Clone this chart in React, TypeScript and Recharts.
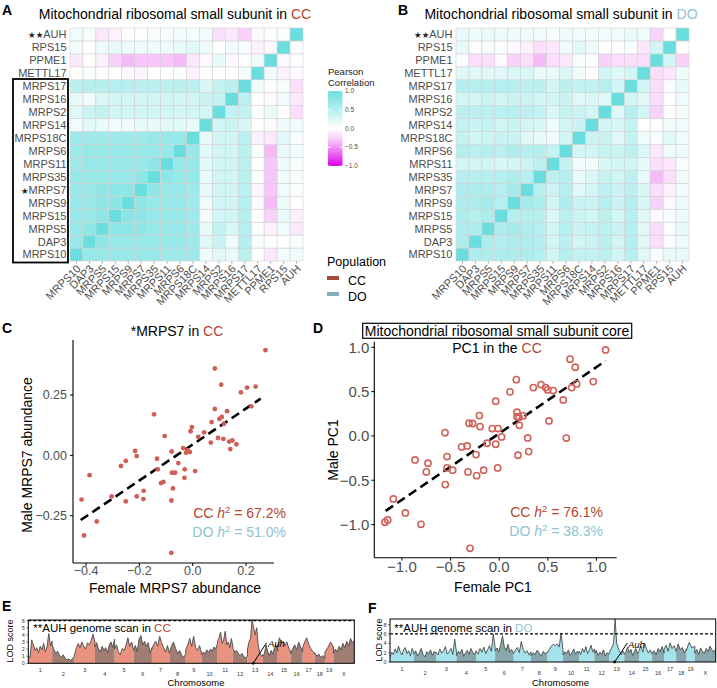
import React from 'react';
import { ScatterChart, Scatter, XAxis, YAxis, ReferenceLine, ReferenceDot, ComposedChart, Area, Line } from 'recharts';

const FONT = '"Liberation Sans", Arial, Helvetica, sans-serif';
const CC_RED = '#B5452F';
const DO_BLUE = '#8DC4D0';
const TICK_GRAY = '#4D4D4D';

// ---------- Heatmaps (rows bottom -> top, columns left -> right) ----------
const genes = ['MRPS10', 'DAP3', 'MRPS5', 'MRPS15', 'MRPS9', 'MRPS7', 'MRPS35', 'MRPS11', 'MRPS6', 'MRPS18C', 'MRPS14', 'MRPS2', 'MRPS16', 'MRPS17', 'METTL17', 'PPME1', 'RPS15', 'AUH'];

const ccCorr = [
  [1, 0.7, 0.7, 0.7, 0.7, 0.7, 0.7, 0.65, 0.65, 0.65, 0.1, 0.2, 0.15, 0.45, 0.0, -0.15, 0.08, 0.1],
  [0.7, 1, 0.75, 0.7, 0.7, 0.7, 0.7, 0.7, 0.7, 0.65, 0.2, 0.35, 0.1, 0.5, 0.05, 0.0, 0.0, 0.05],
  [0.7, 0.75, 1, 0.75, 0.75, 0.75, 0.7, 0.7, 0.7, 0.65, 0.15, 0.4, 0.25, 0.5, 0.02, -0.1, 0.1, -0.15],
  [0.7, 0.7, 0.75, 1, 0.78, 0.75, 0.7, 0.7, 0.7, 0.65, 0.08, 0.3, 0.3, 0.5, 0.0, -0.25, 0.15, -0.1],
  [0.7, 0.7, 0.75, 0.78, 1, 0.75, 0.7, 0.7, 0.7, 0.65, 0.1, 0.3, 0.3, 0.5, -0.05, -0.35, 0.12, 0.0],
  [0.7, 0.7, 0.75, 0.75, 0.75, 1, 0.75, 0.7, 0.7, 0.65, 0.15, 0.3, 0.3, 0.45, -0.08, -0.3, 0.1, 0.02],
  [0.7, 0.7, 0.7, 0.7, 0.7, 0.75, 1, 0.75, 0.7, 0.7, 0.15, 0.3, 0.3, 0.45, 0.0, -0.3, 0.1, 0.05],
  [0.65, 0.7, 0.7, 0.7, 0.7, 0.7, 0.75, 1, 0.7, 0.7, 0.2, 0.3, 0.3, 0.45, 0.0, -0.3, 0.12, 0.05],
  [0.65, 0.7, 0.7, 0.7, 0.7, 0.7, 0.7, 0.7, 1, 0.7, 0.2, 0.3, 0.3, 0.45, 0.02, -0.35, 0.15, 0.08],
  [0.65, 0.65, 0.65, 0.65, 0.65, 0.65, 0.7, 0.7, 0.7, 1, 0.15, 0.3, 0.3, 0.45, -0.1, -0.15, 0.2, 0.05],
  [0.1, 0.2, 0.15, 0.08, 0.1, 0.15, 0.15, 0.2, 0.2, 0.15, 1, 0.3, 0.35, 0.25, 0.0, -0.05, 0.12, 0.1],
  [0.2, 0.35, 0.4, 0.3, 0.3, 0.3, 0.3, 0.3, 0.3, 0.3, 0.3, 1, 0.4, 0.4, 0.0, 0.15, 0.0, -0.2],
  [0.15, 0.1, 0.25, 0.3, 0.3, 0.3, 0.3, 0.3, 0.3, 0.3, 0.35, 0.4, 1, 0.45, 0.0, -0.05, 0.1, -0.15],
  [0.45, 0.5, 0.5, 0.5, 0.5, 0.45, 0.45, 0.45, 0.45, 0.45, 0.25, 0.4, 0.45, 1, 0.08, 0.0, 0.05, -0.2],
  [0.0, 0.05, 0.02, 0.0, -0.05, -0.08, 0.0, 0.0, 0.02, -0.1, 0.0, 0.0, 0.0, 0.08, 1, 0.1, -0.1, -0.05],
  [-0.15, 0.0, -0.1, -0.25, -0.35, -0.3, -0.3, -0.3, -0.35, -0.15, -0.05, 0.15, -0.05, 0.0, 0.1, 1, -0.05, 0.02],
  [0.08, 0.0, 0.1, 0.15, 0.12, 0.1, 0.1, 0.12, 0.15, 0.2, 0.12, 0.0, 0.1, 0.05, -0.1, -0.05, 1, 0.03],
  [0.1, 0.05, -0.15, -0.1, 0.0, 0.02, 0.05, 0.05, 0.08, 0.05, 0.1, -0.2, -0.15, -0.25, -0.05, 0.02, 0.03, 1],
];

const doCorr = [
  [1, 0.55, 0.55, 0.55, 0.55, 0.55, 0.5, 0.3, 0.5, 0.4, 0.4, 0.45, 0.3, 0.5, 0.2, 0.05, 0.15, 0.15],
  [0.55, 1, 0.55, 0.5, 0.55, 0.55, 0.5, 0.3, 0.45, 0.3, 0.35, 0.45, 0.3, 0.5, 0.2, -0.2, 0.05, 0.12],
  [0.55, 0.55, 1, 0.55, 0.6, 0.55, 0.5, 0.3, 0.5, 0.35, 0.4, 0.45, 0.35, 0.5, 0.2, -0.2, 0.02, 0.15],
  [0.55, 0.5, 0.55, 1, 0.5, 0.5, 0.5, 0.25, 0.45, 0.35, 0.3, 0.45, 0.3, 0.5, 0.2, -0.05, 0.05, 0.12],
  [0.55, 0.55, 0.6, 0.5, 1, 0.6, 0.55, 0.3, 0.55, 0.35, 0.35, 0.5, 0.35, 0.5, 0.25, -0.25, -0.05, 0.12],
  [0.55, 0.55, 0.55, 0.5, 0.6, 1, 0.5, 0.35, 0.5, 0.2, 0.3, 0.45, 0.35, 0.45, 0.25, -0.2, -0.1, 0.1],
  [0.5, 0.5, 0.5, 0.5, 0.55, 0.5, 1, 0.45, 0.5, 0.15, 0.25, 0.4, 0.3, 0.45, 0.15, -0.35, -0.2, 0.1],
  [0.3, 0.3, 0.3, 0.25, 0.3, 0.35, 0.45, 1, 0.4, 0.1, 0.1, 0.25, 0.3, 0.3, 0.15, -0.2, -0.15, 0.05],
  [0.5, 0.45, 0.5, 0.45, 0.55, 0.5, 0.5, 0.4, 1, 0.3, 0.3, 0.4, 0.35, 0.45, 0.25, -0.15, 0.1, 0.12],
  [0.4, 0.3, 0.35, 0.35, 0.35, 0.2, 0.15, 0.1, 0.3, 1, 0.35, 0.35, 0.2, 0.4, 0.1, 0.05, 0.2, 0.1],
  [0.4, 0.35, 0.4, 0.3, 0.35, 0.3, 0.25, 0.1, 0.3, 0.35, 1, 0.3, 0.25, 0.4, 0.0, 0.02, 0.1, 0.08],
  [0.45, 0.45, 0.45, 0.45, 0.5, 0.45, 0.4, 0.25, 0.4, 0.35, 0.3, 1, 0.2, 0.5, 0.3, -0.25, 0.0, 0.08],
  [0.3, 0.3, 0.35, 0.3, 0.35, 0.35, 0.3, 0.3, 0.35, 0.2, 0.25, 0.2, 1, 0.3, 0.2, -0.2, 0.0, 0.1],
  [0.5, 0.5, 0.5, 0.5, 0.5, 0.45, 0.45, 0.3, 0.45, 0.4, 0.4, 0.5, 0.3, 1, 0.3, -0.2, 0.05, 0.15],
  [0.2, 0.2, 0.2, 0.2, 0.25, 0.25, 0.15, 0.15, 0.25, 0.1, 0.0, 0.3, 0.2, 0.3, 1, -0.2, -0.15, 0.1],
  [0.05, -0.2, -0.2, -0.05, -0.25, -0.2, -0.35, -0.2, -0.15, 0.05, 0.0, -0.25, -0.2, -0.2, -0.2, 1, 0.3, -0.25],
  [0.15, 0.02, 0.05, 0.02, -0.05, -0.1, -0.2, -0.15, 0.1, 0.2, 0.1, 0.0, 0.02, 0.05, -0.15, 0.3, 1, 0.0],
  [0.15, 0.12, 0.15, 0.12, 0.12, 0.1, 0.1, 0.05, 0.12, 0.1, 0.08, 0.08, 0.1, 0.15, 0.1, -0.25, 0.0, 1],
];

const ccRowStars: Record<string, string> = { AUH: '★★', MRPS7: '★' };
const doRowStars: Record<string, string> = { AUH: '★★' };
const legendValues = [1, 0.5, 0, -0.5, -1];
const legendLabels = ['1.0', '0.5', '0.0', '−0.5', '−1.0'];

// ---------- Panel C: MRPS7 female vs male ----------
const cFemale = [0.273, 0.083, 0.107, 0.204, 0.236, 0.181, 0.22, 0.083, 0.129, 0.109, 0.1, 0.071, -0.145, 0.117, -0.003, -0.008, 0.043, 0.021, 0.095, 0.115, 0.149, 0.137, 0.068, 0.164, 0.141, -0.105, -0.036, -0.02, -0.011, -0.025, -0.079, -0.216, -0.21, -0.134, -0.251, -0.269, -0.054, -0.131, -0.03, -0.078, -0.066, 0.009, -0.031, -0.119, -0.11, -0.074, -0.184, -0.21, -0.304, -0.185, -0.251, -0.08, -0.417, -0.387, -0.36, -0.408, -0.08];
const cMale = [0.436, 0.36, 0.293, 0.281, 0.285, 0.261, 0.203, 0.192, 0.183, 0.159, 0.151, 0.138, 0.17, 0.131, 0.117, 0.1, 0.095, 0.076, 0.072, 0.068, 0.062, 0.057, 0.053, 0.046, 0.026, 0.08, 0.03, 0.022, 0.014, 0.011, 0.016, 0.018, -0.003, -0.014, -0.023, -0.044, -0.032, -0.058, -0.058, -0.072, -0.072, -0.065, -0.093, -0.115, -0.11, -0.137, -0.147, -0.17, -0.17, -0.181, -0.191, -0.187, -0.183, -0.082, -0.274, -0.332, -0.404];
const cFit = [{ x: -0.42, y: -0.268 }, { x: 0.255, y: 0.235 }];

// ---------- Panel D: PC1 female vs male ----------
const dFemale = [1.094, 0.728, 0.782, 0.176, 0.967, 0.796, 0.745, 0.351, 0.43, 0.478, 0.498, 0.556, 0.111, 0.659, -0.036, 0.183, 0.183, 0.245, 0.204, 0.207, 0.512, -0.204, -0.31, -0.273, -0.197, -0.071, -0.012, -0.557, 0.025, 0.293, 0.69, -0.386, -0.328, -0.125, -0.036, -0.238, -0.536, 0.193, 0.303, -0.865, -0.732, -0.749, -0.536, -0.478, -0.321, -0.232, -0.16, -0.016, -0.554, -1.088, -0.965, -1.146, -1.174, -0.804, -0.3];
const dMale = [0.97, 0.866, 0.775, 0.635, 0.613, 0.587, 0.545, 0.545, 0.579, 0.545, 0.519, 0.512, 0.497, 0.406, 0.391, 0.267, 0.218, 0.226, 0.21, 0.12, 0.169, 0.229, 0.143, 0.14, 0.105, 0.083, 0.083, 0.037, -0.011, -0.023, -0.024, -0.124, -0.113, -0.083, -0.094, -0.211, -0.233, -0.218, -0.177, -0.271, -0.308, -0.406, -0.361, -0.387, -0.406, -0.448, -0.387, -0.361, -0.549, -0.711, -0.869, -0.948, -0.974, -0.997, -1.268];
const dFit = [{ x: -1.167, y: -0.846 }, { x: 1.094, y: 0.847 }];

// ---------- Panels E / F: genome scans ----------
const chrNames = ['1', '2', '3', '4', '5', '6', '7', '8', '9', '10', '11', '12', '13', '14', '15', '16', '17', '18', '19', 'X'];
const chrLengths = [121, 113, 104, 100, 96, 93, 89, 83, 80, 81, 78, 74, 78, 75, 66, 61, 61, 52, 43, 106];

const ccLod = [
  [1.0, 0.8, 3.3, 2.6, 1.8, 2.2, 1.5, 2.4, 1.9, 2.8, 1.6, 2.3, 4.2, 2.5, 3.1],
  [2.6, 1.9, 1.4, 1.7, 1.1, 0.9, 1.2, 0.7, 0.5, 0.6, 0.4, 0.7, 0.9],
  [1.2, 2.1, 2.8, 2.2, 3.0, 2.4, 2.0, 2.9, 2.6, 3.2, 4.1, 3.0],
  [2.3, 2.9, 2.0, 1.6, 2.4, 1.8, 2.2, 1.5, 2.6, 3.0, 2.2, 3.4],
  [2.0, 2.6, 1.6, 1.2, 2.1, 1.8, 2.5, 3.6, 2.4, 3.0, 1.9],
  [1.8, 2.5, 1.6, 3.4, 3.9, 2.6, 3.1, 2.4, 2.9, 1.5, 2.2],
  [2.0, 2.7, 3.1, 2.4, 3.8, 2.9, 2.2, 1.6, 2.5, 1.4],
  [1.5, 2.4, 3.0, 2.1, 1.4, 1.8, 1.1, 0.9, 1.3],
  [1.9, 2.6, 3.5, 2.4, 3.8, 2.2, 1.8, 2.5, 1.4],
  [1.2, 1.6, 1.3, 1.9, 1.5, 2.0, 1.7, 2.3, 2.0, 2.8],
  [3.1, 3.6, 4.4, 2.8, 3.3, 4.5, 2.6, 3.0, 2.2, 3.5, 2.4],
  [2.1, 1.6, 1.8, 1.3, 1.1, 1.4, 0.9, 0.8, 1.0],
  [2.0, 3.0, 3.5, 6.1, 5.0, 4.0, 5.0, 2.5, 1.5, 1.0, 1.2],
  [1.0, 1.4, 2.6, 1.6, 1.1, 1.8, 1.3, 2.1, 2.6, 1.7],
  [2.4, 3.6, 2.8, 3.1, 2.5, 3.0, 2.1, 1.7],
  [1.4, 2.0, 2.6, 1.9, 3.0, 2.3, 1.6],
  [2.2, 3.0, 3.6, 2.7, 2.1, 1.7, 1.3],
  [1.5, 1.0, 1.3, 0.8, 1.1, 0.7],
  [1.6, 2.2, 3.0, 2.3],
  [1.4, 2.0, 1.6, 2.4, 1.9, 2.8, 2.2, 3.1, 2.5, 3.5, 2.9, 3.2],
];

const doLod = [
  [1.2, 2.1, 1.6, 2.8, 1.9, 3.4, 2.2, 1.5, 2.6, 3.1, 1.8, 2.4, 1.3, 2.9, 2.0],
  [1.7, 2.4, 1.3, 2.0, 2.9, 1.6, 1.1, 2.2, 1.8, 2.6, 1.4, 2.3, 1.9],
  [2.1, 1.5, 2.8, 1.9, 2.4, 3.3, 1.7, 2.2, 2.9, 1.6, 4.9, 2.0],
  [1.4, 2.3, 1.8, 2.7, 1.2, 2.0, 2.5, 1.6, 2.9, 2.1, 1.5, 2.4],
  [2.2, 1.7, 2.9, 2.1, 3.2, 1.8, 2.6, 3.5, 2.3, 6.0, 3.1],
  [2.4, 3.0, 2.2, 3.6, 5.6, 3.2, 2.5, 3.8, 2.1, 2.7, 1.9],
  [1.8, 2.6, 3.1, 2.0, 4.4, 2.7, 1.9, 2.4, 1.5, 2.2],
  [1.3, 2.0, 1.6, 2.5, 1.9, 1.2, 2.3, 1.7, 2.1],
  [2.0, 2.7, 3.4, 3.8, 3.5, 3.9, 3.2, 6.1, 2.4],
  [1.5, 2.2, 1.8, 2.6, 1.4, 2.0, 2.8, 1.7, 2.3, 1.9],
  [2.3, 1.6, 2.9, 2.1, 3.3, 1.8, 2.5, 3.6, 2.2, 2.8],
  [1.9, 2.5, 1.4, 2.1, 1.7, 2.6, 1.3, 2.0, 1.6],
  [1.8, 2.6, 3.2, 4.0, 9.2, 4.1, 3.0, 2.2, 1.5, 2.4, 1.7],
  [1.6, 2.3, 3.1, 2.0, 2.7, 1.4, 2.1, 2.9, 1.8, 2.4],
  [2.5, 3.4, 2.1, 4.0, 2.8, 1.9, 2.6, 1.7],
  [1.8, 2.4, 1.5, 2.9, 2.2, 3.3, 1.9],
  [2.7, 3.6, 2.3, 4.1, 2.9, 3.5, 2.4],
  [2.2, 3.9, 2.6, 3.1, 2.0, 2.8],
  [2.5, 4.2, 3.0, 3.4],
  [1.9, 2.7, 1.6, 3.0, 2.3, 1.8, 2.9, 2.2, 3.4, 2.6, 2.1, 2.8],
];

const auhBase = { x: 1141, y: 0 };
const ccAuhTip = { x: 1209, y: 2.9 };
const doAuhTip = { x: 1206, y: 4.1 };

// ---------- helpers ----------
const HIGH = [106, 222, 222];
const LOW = [222, 0, 232];
function corrColor(v: number): string {
  const t = Math.min(1, Math.abs(v));
  const c = v >= 0 ? HIGH : LOW;
  const k = v >= 0 ? t : Math.pow(t, 1.25);
  const ch = c.map((cv) => Math.round(255 + (cv - 255) * k));
  return `rgb(${ch[0]},${ch[1]},${ch[2]})`;
}

const geneIdx = genes.map((_, i) => i);

function Heatmap(props: { matrix: number[][]; stars: Record<string, string>; width: number; yW: number; right: number }) {
  const { matrix, stars, width, yW, right } = props;
  const data: { x: number; y: number; v: number }[] = [];
  matrix.forEach((row, r) => row.forEach((v, c) => data.push({ x: c, y: r, v })));
  const cs = (width - yW - right) / genes.length;
  const RowTick = (p: any) => {
    const g = genes[p.payload.value];
    const s = stars[g];
    return (
      <text x={p.x} y={p.y} dy="0.36em" textAnchor="end" fontSize={11} fontFamily={FONT} fill={TICK_GRAY}>
        {s ? <tspan fontSize={8.5} fill="#222" fontFamily="DejaVu Sans">{s}</tspan> : null}
        <tspan>{g}</tspan>
      </text>
    );
  };
  const ColTick = (p: any) => (
    <text transform={`translate(${p.x},${p.y}) rotate(-45)`} textAnchor="end" dy="0.62em" fontSize={11} fontFamily={FONT} fill={TICK_GRAY}>
      {genes[p.payload.value]}
    </text>
  );
  return (
    <ScatterChart width={width} height={310} margin={{ top: 28, right, bottom: 4, left: 0 }}>
      <XAxis type="number" dataKey="x" domain={[-0.5, 17.5]} ticks={geneIdx} interval={0} height={45} tickSize={2.5} tickMargin={1} axisLine={false} tickLine={{ stroke: '#aaa' }} tick={<ColTick />} />
      <YAxis type="number" dataKey="y" domain={[-0.5, 17.5]} ticks={geneIdx} interval={0} width={yW} tickSize={2.5} tickMargin={1} axisLine={false} tickLine={false} tick={<RowTick />} />
      <Scatter
        data={data}
        isAnimationActive={false}
        shape={(p: any) => (
          <rect x={p.cx - cs / 2} y={p.cy - cs / 2} width={cs} height={cs} fill={corrColor(p.payload.v)} stroke="#d2d2d2" strokeWidth={0.6} />
        )}
      />
    </ScatterChart>
  );
}

const axisTick = (size: number) => ({ fontSize: size, fill: TICK_GRAY, fontFamily: FONT });
const fmt = (d: number) => (v: number) => (v < 0 ? '−' + Math.abs(v).toFixed(d) : v.toFixed(d));

function buildScan(lods: number[][]) {
  const pts: any[] = [];
  let start = 0;
  lods.forEach((vals, k) => {
    const len = chrLengths[k];
    vals.forEach((v, i) => {
      const pos = start + (len * i) / (vals.length - 1);
      pts.push({ pos, lod: v, odd: k % 2 === 0 ? v : null, even: k % 2 === 1 ? v : null });
    });
    start += len;
  });
  return pts;
}
const chrStarts = chrLengths.map((_, i) => chrLengths.slice(0, i).reduce((a, b) => a + b, 0));
const chrMids = chrLengths.map((l, i) => chrStarts[i] + l / 2);
const genomeLen = chrLengths.reduce((a, b) => a + b, 0);

function Scan(props: { lods: number[][]; yMax: number; yTicks: number[]; oddFill: string; evenFill: string; width: number; margin: any; tip: { x: number; y: number } }) {
  const { lods, yMax, yTicks, oddFill, evenFill, width, margin, tip } = props;
  const data = buildScan(lods);
  const ChrTick = (p: any) => {
    const i = chrMids.findIndex((m) => Math.abs(m - p.payload.value) < 0.01);
    return (
      <text x={p.x} y={p.y + (i % 2 === 0 ? 8.5 : 13)} textAnchor="middle" fontSize={5.5} fontFamily={FONT} fill="#333">
        {chrNames[i]}
      </text>
    );
  };
  return (
    <ComposedChart width={width} height={88} data={data} margin={margin}>
      <XAxis type="number" dataKey="pos" domain={[0, genomeLen]} ticks={chrMids} interval={0} height={16} tickSize={0} tickMargin={0} axisLine={false} tickLine={false} tick={<ChrTick />} />
      <YAxis type="number" domain={[0, yMax]} ticks={yTicks} interval={0} width={14} tickSize={2} tickMargin={1.5} axisLine={false} tickLine={{ stroke: '#333', strokeWidth: 0.6 }} tick={{ fontSize: 5.5, fill: '#333', fontFamily: FONT }} />
      <Area type="linear" dataKey="odd" stroke="none" fill={oddFill} fillOpacity={1} baseValue={0} connectNulls={false} isAnimationActive={false} dot={false} activeDot={false} />
      <Area type="linear" dataKey="even" stroke="none" fill={evenFill} fillOpacity={1} baseValue={0} connectNulls={false} isAnimationActive={false} dot={false} activeDot={false} />
      <Line type="linear" dataKey="lod" stroke="#4a4a4a" strokeWidth={0.9} dot={false} activeDot={false} isAnimationActive={false} />
      <ReferenceLine y={6} stroke="#000" strokeWidth={1.2} strokeDasharray="3 2" />
      <ReferenceLine segment={[auhBase, tip]} stroke="#000" strokeWidth={1} />
      <ReferenceDot x={auhBase.x} y={auhBase.y} r={1.4} fill="#000" stroke="none" />
    </ComposedChart>
  );
}

const abs = (left: number, top: number): React.CSSProperties => ({ position: 'absolute', left, top });

function H2Text(props: { x: number; y: number; pop: string; val: string; color: string }) {
  const { x, y, pop, val, color } = props;
  return (
    <text x={x} y={y} textAnchor="end" fontSize={14} fill={color} fontFamily={FONT}>
      {pop + ' '}
      <tspan fontStyle="italic">h</tspan>
      <tspan dy={-5} fontSize={9.5}>2</tspan>
      <tspan dy={5}>{' = ' + val}</tspan>
    </text>
  );
}

export default function App() {
  const cData = cFemale.map((x, i) => ({ x, y: cMale[i] }));
  const dData = dFemale.map((x, i) => ({ x, y: dMale[i] }));
  const barTop = 91;
  const barH = 75;
  const valY = (v: number) => barTop + ((1 - v) / 2) * barH;
  const gradStops = [1, 0.75, 0.5, 0.25, 0, -0.25, -0.5, -0.75, -1];

  return (
    <div style={{ position: 'absolute', left: 0, top: 0, width: 717, height: 688, background: '#fff', fontFamily: FONT, overflow: 'hidden' }}>
      <div style={abs(0, 0)}>
        <Heatmap matrix={ccCorr} stars={ccRowStars} width={320} yW={70} right={17} />
      </div>
      <div style={abs(380, 0)}>
        <Heatmap matrix={doCorr} stars={doRowStars} width={330} yW={76} right={21} />
      </div>

      <div style={abs(0, 320)}>
        <ScatterChart width={300} height={280} margin={{ top: 20, right: 26, bottom: 7, left: 20 }}>
          <XAxis type="number" dataKey="x" domain={[-0.449, 0.305]} ticks={[-0.4, -0.2, 0, 0.2]} tickFormatter={fmt(1)} height={30} tickSize={3} tickMargin={0} axisLine={{ stroke: '#000', strokeWidth: 1.1 }} tickLine={{ stroke: '#000' }} tick={axisTick(12.5)} />
          <YAxis type="number" dataKey="y" domain={[-0.446, 0.478]} ticks={[-0.25, 0, 0.25]} tickFormatter={fmt(2)} width={53} tickSize={3} tickMargin={3} axisLine={{ stroke: '#000', strokeWidth: 1.1 }} tickLine={{ stroke: '#000' }} tick={axisTick(12.5)} />
          <ReferenceLine segment={cFit} stroke="#000" strokeWidth={2.6} strokeDasharray="9 5" />
          <Scatter data={cData} isAnimationActive={false} shape={(p: any) => <circle cx={p.cx} cy={p.cy} r={2.4} fill="#CF5F55" />} />
        </ScatterChart>
      </div>

      <div style={abs(340, 320)}>
        <ScatterChart width={300} height={280} margin={{ top: 21.7, right: 23.3, bottom: 12.3, left: 0 }}>
          <XAxis type="number" dataKey="x" domain={[-1.284, 1.208]} ticks={[-1, -0.5, 0, 0.5, 1]} tickFormatter={fmt(1)} height={30} tickSize={3} tickMargin={1} axisLine={{ stroke: '#000', strokeWidth: 1.1 }} tickLine={{ stroke: '#000' }} tick={axisTick(15)} />
          <YAxis type="number" dataKey="y" domain={[-1.374, 1.063]} ticks={[-1, -0.5, 0, 0.5, 1]} tickFormatter={fmt(1)} width={34.3} tickSize={3} tickMargin={2} axisLine={{ stroke: '#000', strokeWidth: 1.1 }} tickLine={{ stroke: '#000' }} tick={axisTick(15)} />
          <ReferenceLine segment={dFit} stroke="#000" strokeWidth={2.6} strokeDasharray="9 5" />
          <Scatter data={dData} isAnimationActive={false} shape={(p: any) => <circle cx={p.cx} cy={p.cy} r={3.1} fill="none" stroke="#D0625A" strokeWidth={1.6} />} />
        </ScatterChart>
      </div>

      <div style={abs(0, 600)}>
        <Scan lods={ccLod} yMax={6.1} yTicks={[0, 1, 2, 3, 4, 5, 6]} oddFill="#E8927F" evenFill="#A27D74" width={360} margin={{ top: 20, right: 5.7, bottom: 8.7, left: 14.3 }} tip={ccAuhTip} />
      </div>
      <div style={abs(360, 600)}>
        <Scan lods={doLod} yMax={9.2} yTicks={[0, 2, 4, 6, 8]} oddFill="#A5E3EC" evenFill="#86A7AB" width={357} margin={{ top: 19, right: 1.3, bottom: 10, left: 16 }} tip={doAuhTip} />
      </div>

      <svg width={717} height={688} style={{ position: 'absolute', left: 0, top: 0, pointerEvents: 'none' }} fontFamily={FONT}>
        <defs>
          <linearGradient id="pearson" x1="0" y1="0" x2="0" y2="1">
            {gradStops.map((v) => (
              <stop key={v} offset={`${((1 - v) / 2) * 100}%`} stopColor={corrColor(v)} />
            ))}
          </linearGradient>
        </defs>
        <g fontWeight="bold" fontSize={14} fill="#000">
          <text x={2} y={15}>A</text>
          <text x={398} y={15}>B</text>
          <text x={2} y={333}>C</text>
          <text x={313} y={333}>D</text>
          <text x={2} y={611}>E</text>
          <text x={368} y={613}>F</text>
        </g>
        <text x={175} y={19} textAnchor="middle" fontSize={14} fill="#000">
          Mitochondrial ribosomal small subunit in <tspan fill={CC_RED}>CC</tspan>
        </text>
        <text x={561} y={19} textAnchor="middle" fontSize={14} fill="#000">
          Mitochondrial ribosomal small subunit in <tspan fill={DO_BLUE}>DO</tspan>
        </text>
        <rect x={13} y={79} width={55} height={183.5} fill="none" stroke="#000" strokeWidth={1.8} />
        <text x={328} y={75} fontSize={9.5} fill="#222">Pearson</text>
        <text x={328} y={86} fontSize={9.5} fill="#222">Correlation</text>
        <rect x={328} y={barTop} width={14.5} height={barH} fill="url(#pearson)" />
        {legendValues.map((v, i) => (
          <g key={v}>
            <line x1={328} x2={331} y1={valY(v)} y2={valY(v)} stroke="#fff" strokeWidth={0.8} />
            <line x1={339.5} x2={342.5} y1={valY(v)} y2={valY(v)} stroke="#fff" strokeWidth={0.8} />
            <text x={345} y={valY(v) + 2.2} fontSize={6.5} fill={TICK_GRAY}>{legendLabels[i]}</text>
          </g>
        ))}
        <text x={327} y={266} fontSize={12.5} fill="#000">Population</text>
        <rect x={327} y={276} width={12} height={4} fill="#A34B3A" />
        <text x={348} y={284.5} fontSize={12.5} fill="#000">CC</text>
        <rect x={327} y={292} width={12} height={4} fill="#84B0BC" />
        <text x={348} y={300.5} fontSize={12.5} fill="#000">DO</text>

        <text x={177} y={336} textAnchor="middle" fontSize={14} fill="#000">
          *MRPS7 in <tspan fill={CC_RED}>CC</tspan>
        </text>
        <H2Text x={286} y={518} pop="CC" val="67.2%" color={CC_RED} />
        <H2Text x={286} y={536.5} pop="DO" val="51.0%" color={DO_BLUE} />
        <text x={175} y={593} textAnchor="middle" fontSize={14} fill="#000">Female MRPS7 abundance</text>
        <text transform="translate(32,455) rotate(-90)" textAnchor="middle" fontSize={14} fill="#000">Male MRPS7 abundance</text>

        <rect x={362.7} y={323.3} width={269} height={15} fill="#fff" stroke="#000" strokeWidth={1.2} />
        <text x={497} y={335.5} textAnchor="middle" fontSize={14} fill="#000">Mitochondrial ribosomal small subunit core</text>
        <text x={497} y={352.5} textAnchor="middle" fontSize={14} fill="#000">
          PC1 in the <tspan fill={CC_RED}>CC</tspan>
        </text>
        <H2Text x={603} y={516.5} pop="CC" val="76.1%" color={CC_RED} />
        <H2Text x={603} y={535.5} pop="DO" val="38.3%" color={DO_BLUE} />
        <text x={493} y={592} textAnchor="middle" fontSize={14} fill="#000">Female PC1</text>
        <text transform="translate(338,450) rotate(-90)" textAnchor="middle" fontSize={14} fill="#000">Male PC1</text>

        <rect x={28.3} y={620} width={326} height={43.3} fill="none" stroke="#000" strokeWidth={1} />
        <text x={33.3} y={632} fontSize={11.5} fill="#000">
          **AUH genome scan in <tspan fill={CC_RED}>CC</tspan>
        </text>
        <text transform="translate(12.5,641) rotate(-90)" textAnchor="middle" fontSize={9} fill="#000">LOD score</text>
        <text x={196} y={686} textAnchor="middle" fontSize={9.5} fill="#000">Chromosome</text>
        <text x={268} y={647} fontSize={9.5} fontStyle="italic" fill="#000">Auh</text>

        <rect x={390} y={619} width={325.7} height={43} fill="none" stroke="#000" strokeWidth={1} />
        <text x={394.3} y={632} fontSize={11.5} fill="#000">
          **AUH genome scan in <tspan fill={DO_BLUE}>DO</tspan>
        </text>
        <text transform="translate(381.5,640) rotate(-90)" textAnchor="middle" fontSize={9} fill="#000">LOD score</text>
        <text x={560.5} y={686} textAnchor="middle" fontSize={9.5} fill="#000">Chromosome</text>
        <text x={628} y={647.5} fontSize={9.5} fontStyle="italic" fill="#000">Auh</text>
      </svg>
    </div>
  );
}
